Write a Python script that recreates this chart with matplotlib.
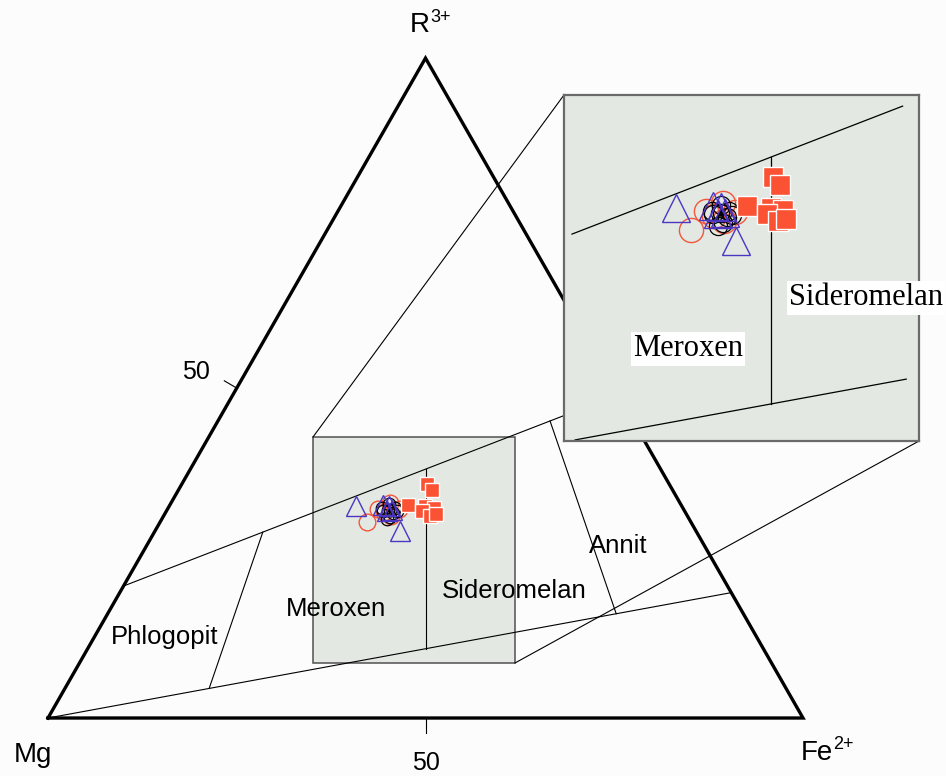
import numpy as np
import matplotlib.pyplot as plt
from matplotlib.patches import Rectangle

plt.rcParams['font.family'] = ['Liberation Sans', 'DejaVu Sans']

# biotite analyses, percent Mg / Fe2+ / R3+
red_mg = [42.9, 40.4, 38.4, 37.7, 39.3, 39.9]
red_fe = [27.4, 27.9, 29.0, 30.7, 30.1, 28.9]
red_r = [29.7, 31.7, 32.6, 31.6, 30.6, 31.2]

blk_mg = [39.0, 39.9, 38.2, 39.5, 38.6, 40.1, 38.1, 39.8, 38.7, 39.2]
blk_fe = [29.5, 28.7, 30.0, 30.1, 29.0, 29.8, 30.6, 28.4, 30.2, 29.3]
blk_r = [31.5, 31.4, 31.8, 30.4, 32.4, 30.1, 31.3, 31.8, 31.1, 31.5]

tri_mg = [43.1, 39.2, 39.5, 38.7, 38.7, 39.4]
tri_fe = [24.8, 32.4, 28.2, 29.1, 29.8, 29.2]
tri_r = [32.1, 28.4, 32.3, 32.2, 31.5, 31.4]

sq_mg = [32.1, 31.9, 36.2, 34.0, 32.9, 34.7, 34.1, 33.1]
sq_fe = [32.4, 33.5, 31.5, 33.9, 35.2, 33.9, 35.3, 36.0]
sq_r = [35.5, 34.6, 32.3, 32.1, 31.9, 31.4, 30.6, 30.9]

# field boundaries (Mg, Fe, R)
upper_line = [(80, 0, 20), (0, 51, 49)]
lower_line = [(100, 0, 0), (0, 81, 19)]
fe_ratios = [0.2, 0.5, 0.8]


def tern(mg, fe, r):
    mg, fe, r = np.asarray(mg, float), np.asarray(fe, float), np.asarray(r, float)
    tot = mg + fe + r
    return 100 * (fe + r / 2) / tot, 100 * r * np.sqrt(3) / 2 / tot


def seg(p0, p1):
    x0, y0 = tern(*p0)
    x1, y1 = tern(*p1)
    return np.array([x0, y0]), np.array([x1, y1])


def intersect(a0, a1, b0, b1):
    d1, d2 = a1 - a0, b1 - b0
    t = np.cross(b0 - a0, d2) / np.cross(d1, d2)
    return a0 + t * d1


top = np.array(tern(0, 0, 100))
up0, up1 = seg(*upper_line)
lo0, lo1 = seg(*lower_line)

dividers = []
for f in fe_ratios:
    b = np.array(tern(100 * (1 - f), 100 * f, 0))
    dividers.append((intersect(top, b, up0, up1), intersect(top, b, lo0, lo1)))


def clip_x(p0, p1, xa, xb):
    k = (p1[1] - p0[1]) / (p1[0] - p0[0])
    return [xa, xb], [p0[1] + k * (xa - p0[0]), p0[1] + k * (xb - p0[0])]


def draw_points(ax, scale):
    x, y = tern(red_mg, red_fe, red_r)
    ax.plot(x, y, 'o', ms=12 * scale, mfc='none', mec='#f4563a', mew=1.0, zorder=3)
    x, y = tern(blk_mg, blk_fe, blk_r)
    ax.plot(x, y, 'o', ms=9 * scale, mfc='none', mec='black', mew=0.9, zorder=4)
    x, y = tern(tri_mg, tri_fe, tri_r)
    ax.plot(x, y, '^', ms=14 * scale, mfc='none', mec='#4b36c4', mew=1.0, zorder=5)
    x, y = tern(sq_mg, sq_fe, sq_r)
    ax.plot(x, y, 's', ms=9.6 * scale, mfc='#fb5233', mec='white', mew=1.0, zorder=6)


def corner_label(ax, x, y, base, sup, gap):
    ax.text(x, y, base, ha='right', va='center', fontsize=20)
    ax.annotate(sup, (x, y), xytext=(gap, 6), textcoords='offset points',
                ha='left', va='center', fontsize=13)


fig = plt.figure(figsize=(9.46, 7.76), dpi=100, facecolor='#fcfcfc')
ax = fig.add_axes([0, 0, 1, 1])
ax.set_xlim(-6.358, 118.94)
ax.set_ylim(-7.61, 94.23)
ax.axis('off')

# outer triangle
corners = np.array([tern(100, 0, 0), tern(0, 100, 0), tern(0, 0, 100), tern(100, 0, 0)])
ax.plot(corners[:, 0], corners[:, 1], color='black', lw=2.4, solid_joinstyle='miter', zorder=5)

# ticks at 50 %
ax.plot([50, 50], [0, -2.0], color='black', lw=0.8)
mx, my = tern(50, 0, 50)
ax.plot([mx, mx - 0.866 * 1.9], [my, my + 0.5 * 1.9], color='black', lw=0.8)
ax.text(50, -5.9, '50', ha='center', va='center', fontsize=18)
ax.text(19.6, 45.4, '50', ha='center', va='center', fontsize=18)

ax.text(-2.0, -4.9, 'Mg', ha='center', va='center', fontsize=20)
corner_label(ax, 104.0, -4.6, 'Fe', '2+', 0.0)
corner_label(ax, 50.5, 90.9, 'R', '3+', 0.5)

# inset frame on the main diagram
box = (35.1, 7.22, 61.85, 36.88)
ax.add_patch(Rectangle((box[0], box[1]), box[2] - box[0], box[3] - box[1],
                       facecolor='#e3e8e3', edgecolor='#505050', lw=1.1, zorder=1))

# field lines
for p0, p1 in [(up0, up1), (lo0, lo1)] + dividers:
    ax.plot([p0[0], p1[0]], [p0[1], p1[1]], color='black', lw=0.8, zorder=2)

ax.text(15.5, 10.6, 'Phlogopit', ha='center', va='center', fontsize=18.5, zorder=7)
ax.text(38.1, 14.3, 'Meroxen', ha='center', va='center', fontsize=18.5, zorder=7)
ax.text(61.7, 16.7, 'Sideromelan', ha='center', va='center', fontsize=18.5, zorder=7)
ax.text(75.5, 22.6, 'Annit', ha='center', va='center', fontsize=18.5, zorder=7)

draw_points(ax, 1.0)

# connectors to the enlarged view
ax.plot([box[0], 68.34], [box[3], 81.76], color='black', lw=0.8, zorder=2)
ax.plot([box[2], 115.36], [box[1], 36.35], color='black', lw=0.8, zorder=2)

# enlarged view
zx = fig.add_axes([564 / 946, 1 - 441 / 776, 355 / 946, 346 / 776])
zx.set_facecolor('#e3e8e3')
zx.set_xlim(30.03, 64.23)
zx.set_ylim(5.55, 38.57)
zx.set_xticks([])
zx.set_yticks([])
for s in zx.spines.values():
    s.set_color('#6a6a6a')
    s.set_linewidth(1.6)

xs, ys = clip_x(up0, up1, 30.8, 62.65)
zx.plot(xs, ys, color='black', lw=0.9, zorder=2)
xs, ys = clip_x(lo0, lo1, 31.1, 63.0)
zx.plot(xs, ys, color='black', lw=0.9, zorder=2)
d0, d1 = dividers[1]
zx.plot([d0[0], d1[0]], [d0[1], d1[1]], color='black', lw=0.9, zorder=2)

draw_points(zx, 1.45)

bb = dict(facecolor='white', edgecolor='none', pad=1.5)
zx.text(41.97, 14.33, 'Meroxen', ha='center', va='center', fontsize=22,
        family='Liberation Serif', bbox=bb, zorder=8, clip_on=False)
zx.text(59.13, 19.2, 'Sideromelan', ha='center', va='center', fontsize=22,
        family='Liberation Serif', bbox=bb, zorder=8, clip_on=False)

fig.savefig('out.png', dpi=100, facecolor=fig.get_facecolor())
